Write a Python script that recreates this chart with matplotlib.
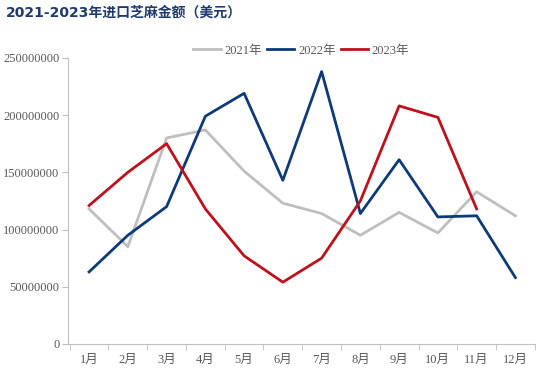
import matplotlib.pyplot as plt
import numpy as np

plt.rcParams['font.family'] = ['Liberation Serif', 'Noto Sans CJK SC', 'DejaVu Sans']

months = ["1月", "2月", "3月", "4月", "5月", "6月", "7月", "8月", "9月", "10月", "11月", "12月"]
y2021 = [118e6, 85e6, 180e6, 187e6, 151e6, 123e6, 114e6, 95e6, 115e6, 97e6, 133e6, 112e6]
y2022 = [63e6, 95e6, 120e6, 199e6, 219e6, 143e6, 238e6, 114e6, 161e6, 111e6, 112e6, 58e6]
y2023 = [121e6, 150e6, 175e6, 118e6, 77e6, 54e6, 75e6, 125e6, 208e6, 198e6, 118e6]

fig = plt.figure(figsize=(5.38, 3.78), dpi=100)
ax = fig.add_axes([0.126, 0.09, 0.868, 0.757])

x = np.arange(len(months))
ax.plot(x, y2021, color="#bfbfbf", lw=2, label="2021年")
ax.plot(x, y2022, color="#0e3a7a", lw=2, label="2022年")
ax.plot(x[:len(y2023)], y2023, color="#c0101c", lw=2, label="2023年")

ax.set_xlim(-0.55, 11.5)
ax.set_ylim(0, 250e6)
ax.set_yticks(np.arange(0, 250e6 + 1, 50e6))
ax.set_yticklabels([f"{int(v)}" for v in np.arange(0, 250e6 + 1, 50e6)])
ax.set_xticks(x)
ax.set_xticklabels(months)
ax.set_xticks(np.arange(-0.5, 12, 1), minor=True)
ax.tick_params(axis="x", which="major", length=0, pad=7)
ax.tick_params(axis="x", which="minor", length=4, color="#bfbfbf")
ax.tick_params(axis="y", length=4, color="#bfbfbf", pad=2)
ax.tick_params(labelsize=9, labelcolor="#595959")

for s in ["top", "right"]:
    ax.spines[s].set_visible(False)
for s in ["left", "bottom"]:
    ax.spines[s].set_color("#bfbfbf")

ax.legend(loc="upper center", bbox_to_anchor=(0.5, 1.085), ncol=3, frameon=False,
          fontsize=9, labelcolor="#595959", handlelength=2.2, columnspacing=0.4,
          handletextpad=0.3)

fig.text(0.01, 0.955, "2021-2023年进口芝麻金额（美元）", fontsize=10, fontweight="bold",
         color="#1f3a6e", family=["DejaVu Sans", "Noto Sans CJK SC"])

fig.savefig("out.png", dpi=100)
